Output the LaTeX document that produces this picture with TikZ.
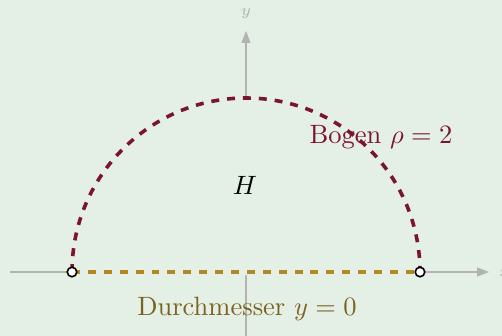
\documentclass[tikz,border=0pt]{standalone}
\usetikzlibrary{arrows.meta}
\definecolor{bg}{HTML}{E4EFE6}
\definecolor{arcred}{HTML}{7A1430}
\definecolor{gold}{HTML}{B08A1E}
\definecolor{olive}{HTML}{7A6220}
\definecolor{axisgray}{HTML}{B3B3B3}
\begin{document}
\begin{tikzpicture}[x=0.37736pt,y=-0.37736pt,
 axis/.style={draw=axisgray,line width=0.4pt,-{Triangle[length=4.5pt,width=3.4pt]}},
 axlabel/.style={text=axisgray,font=\fontsize{6}{7}\selectfont,inner sep=0pt},
 endpt/.style={circle,draw=black,fill=white,line width=0.6pt,inner sep=0pt,minimum size=3.6pt},
 arcline/.style={draw=arcred,line width=1.35pt,dashed},
 diam/.style={draw=gold,line width=1.35pt,dashed},
 lbl/.style={inner sep=0pt,anchor=base}]
\fill[bg] (0,0) rectangle (502,336);
\useasboundingbox (0,0) rectangle (502,336);
\coordinate (xs) at (10,272);
\coordinate (xe) at (489,272);
\coordinate (ys) at (246,340);
\coordinate (ye) at (246,31);
\draw[axis] (xs) -- (xe);
\draw[axis] (ys) -- (ye);
\node[axlabel] (xl) at (505,273) {$x$};
\node[axlabel] (yl) at (246,14) {$y$};
\coordinate (A) at (72,272);
\coordinate (B) at (420,272);
\fill[bg] (72,275) -- (A) arc[start angle=180,end angle=360,radius=174] -- (420,275) -- cycle;
\draw[arcline] (A) arc[start angle=180,end angle=360,radius=174];
\draw[diam] (A) -- (B);
\node[endpt] (L) at (A) {};
\node[endpt] (R) at (B) {};
\node[lbl,text=arcred] (bogen) at (381,144) {Bogen $\rho=2$};
\node[lbl] (H) at (245,195) {$H$};
\node[lbl,text=olive] (durch) at (247,316) {Durchmesser $y=0$};
\end{tikzpicture}
\end{document}
